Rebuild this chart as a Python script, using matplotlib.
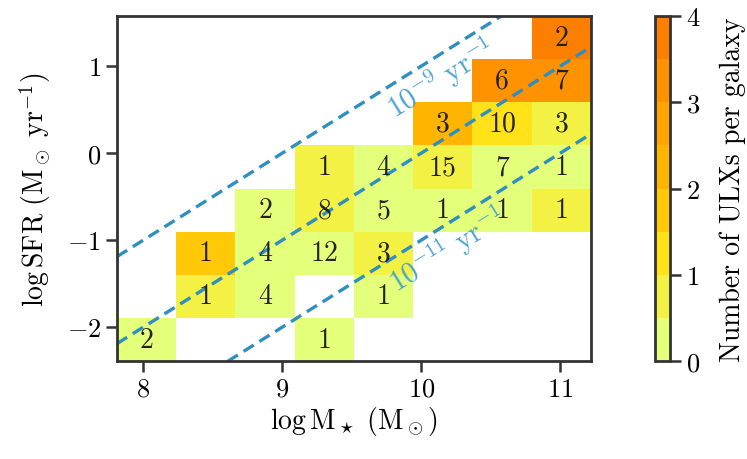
import numpy as np
import matplotlib
matplotlib.use('Agg')
import matplotlib.pyplot as plt
from matplotlib.colors import BoundaryNorm

plt.rcParams['font.family'] = 'serif'
plt.rcParams['font.serif'] = ['cmr10']
plt.rcParams['mathtext.fontset'] = 'cm'
plt.rcParams['axes.formatter.use_mathtext'] = True

# bin edges of the 2D histogram (log M*, log SFR)
mass_edges = np.linspace(7.81, 11.22, 9)
sfr_edges = np.linspace(-2.39, 1.575, 9)

# number of galaxies per cell (rows: bottom -> top, cols: low -> high mass), 0 = empty
n_gal = [
    [2, 0, 0, 1, 0, 0, 0, 0],
    [0, 1, 4, 0, 1, 0, 0, 0],
    [0, 1, 4, 12, 3, 0, 0, 0],
    [0, 0, 2, 8, 5, 1, 1, 1],
    [0, 0, 0, 1, 4, 15, 7, 1],
    [0, 0, 0, 0, 0, 3, 10, 3],
    [0, 0, 0, 0, 0, 0, 6, 7],
    [0, 0, 0, 0, 0, 0, 0, 2],
]
# ULXs per galaxy (estimated from colour bands)
ulx_per_gal = [
    [0.25, 0, 0, 0.25, 0, 0, 0, 0],
    [0, 0.75, 0.25, 0, 0.25, 0, 0, 0],
    [0, 1.75, 0.25, 0.25, 0.75, 0, 0, 0],
    [0, 0, 0.25, 0.75, 0.25, 0.25, 0.25, 0.75],
    [0, 0, 0, 0.75, 0.25, 0.75, 0.25, 0.25],
    [0, 0, 0, 0, 0, 2.25, 1.25, 0.75],
    [0, 0, 0, 0, 0, 0, 3.25, 3.25],
    [0, 0, 0, 0, 0, 0, 0, 3.75],
]
ssfr_lines = [-9, -10, -11]
ssfr_labels = {-9: (10.14, 0.87), -11: (10.19, -1.10)}

n_gal = np.array(n_gal)
vals = np.ma.masked_where(n_gal == 0, np.array(ulx_per_gal))

fig = plt.figure(figsize=(7.47, 4.6), dpi=100)
ax = fig.add_axes([0.1566, 0.213, 0.6345, 0.75])
cax = fig.add_axes([0.877, 0.213, 0.020, 0.75])

levels = np.arange(0, 4.01, 0.5)
cmap = plt.get_cmap('Wistia')
norm = BoundaryNorm(levels, cmap.N)
mesh = ax.pcolormesh(mass_edges, sfr_edges, vals, cmap=cmap, norm=norm)

mc = 0.5 * (mass_edges[1:] + mass_edges[:-1])
sc = 0.5 * (sfr_edges[1:] + sfr_edges[:-1])
for i in range(8):
    for j in range(8):
        if n_gal[i, j] > 0:
            ax.text(mc[j], sc[i], str(n_gal[i, j]), ha='center', va='center',
                    fontsize=20, color='#222222')

ax.set_xlim(mass_edges[0], mass_edges[-1])
ax.set_ylim(sfr_edges[0], sfr_edges[-1])

xx = np.array([mass_edges[0], mass_edges[-1]])
for s in ssfr_lines:
    ax.plot(xx, xx + s, ls='--', color='#2f8fc0', lw=2.4, dashes=(3.6, 2))

for s, (lx, ly) in ssfr_labels.items():
    ang = ax.transData.transform_angles(np.array([45.0]), np.array([[lx, ly]]))[0]
    ax.text(lx, ly, r'$10^{%d}\ \mathrm{yr}^{-1}$' % s, rotation=ang,
            rotation_mode='anchor', ha='center', va='center',
            fontsize=21, color='#3a9bcc', alpha=0.9)

ax.set_xticks([8, 9, 10, 11])
ax.set_yticks([-2, -1, 0, 1])
ax.set_xlabel(r'$\log\mathrm{M}_\star\ (\mathrm{M}_\odot)$', fontsize=20, labelpad=2)
ax.set_ylabel(r'$\log\mathrm{SFR}\ (\mathrm{M}_\odot\ \mathrm{yr}^{-1})$', fontsize=20, labelpad=10)
ax.tick_params(labelsize=19, width=1.8, length=8, color='#333333')
for sp in ax.spines.values():
    sp.set_linewidth(2)
    sp.set_color('#333333')

cb = fig.colorbar(mesh, cax=cax, ticks=[0, 1, 2, 3, 4])
cb.set_label('Number of ULXs per galaxy', fontsize=20, labelpad=14)
cb.ax.minorticks_off()
cb.ax.tick_params(labelsize=19, width=1.8, length=8, color='#333333')
cb.outline.set_linewidth(2)
cb.outline.set_edgecolor('#333333')

fig.savefig('out.png', dpi=100)
